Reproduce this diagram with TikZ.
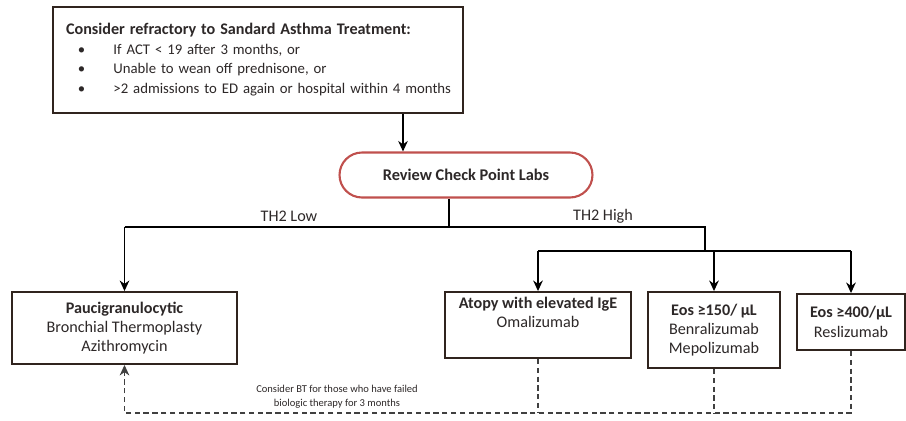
\documentclass[tikz,border=0pt]{standalone}
\usepackage{fontspec}
\setmainfont{Carlito}
\usetikzlibrary{arrows.meta}
\definecolor{labred}{RGB}{192,80,77}
\definecolor{boxline}{RGB}{48,36,30}
\definecolor{ink}{RGB}{45,40,40}
\begin{document}
\begin{tikzpicture}[>={Stealth[length=6pt,width=5.5pt]},x=0.02cm,y=-0.02cm,
    box/.style={draw=boxline,line width=1.1pt,fill=white,align=center,text=ink,
      inner sep=2pt,font=\fontsize{9.2}{11}\selectfont},
    labs/.style={draw=labred,line width=1.2pt,rounded corners=0.45cm,fill=white,
      minimum width=5.06cm,minimum height=0.9cm,text=ink,font=\fontsize{9.3}{11}\selectfont\bfseries},
    branch/.style={text=ink,font=\fontsize{9.2}{11}\selectfont},
    dashline/.style={densely dashed,line width=0.6pt,black!75}]
  \useasboundingbox (0,0) rectangle (906,420);
  \node[box,align=left,minimum width=8.2cm,minimum height=2.12cm,text width=7.68cm,inner xsep=7.4pt,
    font=\fontsize{8.4}{11.3}\selectfont] (refract) at (258,60)
    {\begin{tabular}{@{}l@{\hspace{16pt}}l@{}}
      \multicolumn{2}{@{}l@{}}{\fontsize{9.2}{11}\selectfont\textbf{Consider refractory to Sandard Asthma Treatment:}}\\
      \hspace*{6.8pt}\textbullet & If ACT < 19 after 3 months, or\\
      \hspace*{6.8pt}\textbullet & Unable to wean off prednisone, or\\
      \hspace*{6.8pt}\textbullet & >2 admissions to ED again or hospital within 4 months
    \end{tabular}};
  \node[labs] (review) at (466,175) {Review Check Point Labs};
  \node[box,minimum width=4.5cm,minimum height=1.44cm] (pauci) at (124.5,328)
    {\textbf{Paucigranulocytic}\\Bronchial Thermoplasty\\Azithromycin};
  \node[box,minimum width=3.72cm,minimum height=1.32cm] (atopy) at (538,325)
    {\textbf{Atopy with elevated IgE}\\Omalizumab\\\strut};
  \node[box,minimum width=2.64cm,minimum height=1.52cm] (eoslow) at (714,330)
    {\textbf{Eos ≥150/ µL}\\Benralizumab\\Mepolizumab};
  \node[box,minimum width=2.16cm,minimum height=1.12cm] (eoshigh) at (851,322)
    {\textbf{Eos ≥400/µL}\\Reslizumab};
  \coordinate (a1) at (403,0);
  \coordinate (split) at (449,227);
  \coordinate (high) at (705,227);
  \coordinate (hub) at (705,251);
  \coordinate (base) at (0,413);
  \draw[->,line width=0.7pt] (refract.south -| a1)--(review.north -| a1);
  \draw[line width=0.7pt] (review.south -| split)--(split);
  \draw[line width=0.7pt] (split -| pauci.north)--(high)--(hub);
  \draw[->,line width=0.7pt] (split -| pauci.north)--(pauci.north);
  \draw[line width=0.7pt] (hub -| atopy.north)--(hub -| eoshigh.north);
  \draw[->,line width=0.7pt] (hub -| atopy.north)--(atopy.north);
  \draw[->,line width=0.7pt] (hub -| eoslow.north)--(eoslow.north);
  \draw[->,line width=0.7pt] (hub -| eoshigh.north)--(eoshigh.north);
  \node[branch] (low) at (289,216) {TH2 Low};
  \node[branch] (th2high) at (603,216) {TH2 High};
  \draw[dashline] (atopy.south)--(atopy.south |- base);
  \draw[dashline] (eoslow.south)--(eoslow.south |- base);
  \draw[dashline,->] (eoshigh.south)--(eoshigh.south |- base) -| (pauci.south);
  \node[text=ink,align=center,font=\fontsize{6}{8}\selectfont] (bt) at (337,397)
    {Consider BT for those who have failed\\biologic therapy for 3 months};
\end{tikzpicture}
\end{document}
